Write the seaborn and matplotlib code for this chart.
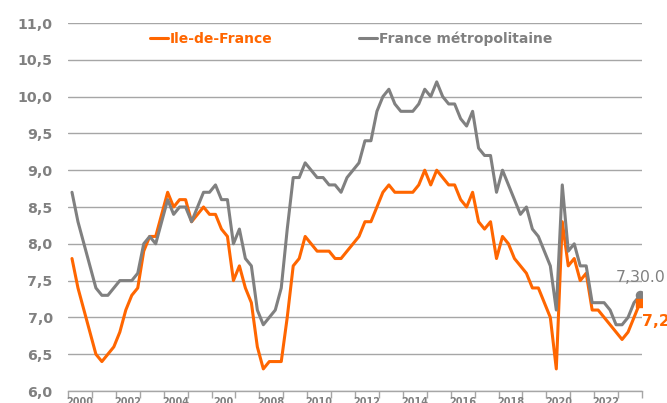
import numpy as np
import pandas as pd
import matplotlib
matplotlib.use("Agg")
import matplotlib.pyplot as plt
import seaborn as sns

# ==========================================
# Data - taux de chomage trimestriel (%), 2000 T1 -> 2023 T4
# ==========================================

idf = [7.8, 7.4, 7.1, 6.8, 6.5, 6.4, 6.5, 6.6, 6.8, 7.1, 7.3, 7.4,
       7.9, 8.1, 8.1, 8.4, 8.7, 8.5, 8.6, 8.6, 8.3, 8.4, 8.5, 8.4,
       8.4, 8.2, 8.1, 7.5, 7.7, 7.4, 7.2, 6.6, 6.3, 6.4, 6.4, 6.4,
       7.0, 7.7, 7.8, 8.1, 8.0, 7.9, 7.9, 7.9, 7.8, 7.8, 7.9, 8.0,
       8.1, 8.3, 8.3, 8.5, 8.7, 8.8, 8.7, 8.7, 8.7, 8.7, 8.8, 9.0,
       8.8, 9.0, 8.9, 8.8, 8.8, 8.6, 8.5, 8.7, 8.3, 8.2, 8.3, 7.8,
       8.1, 8.0, 7.8, 7.7, 7.6, 7.4, 7.4, 7.2, 7.0, 6.3, 8.3, 7.7,
       7.8, 7.5, 7.6, 7.1, 7.1, 7.0, 6.9, 6.8, 6.7, 6.8, 7.0, 7.2]

france = [8.7, 8.3, 8.0, 7.7, 7.4, 7.3, 7.3, 7.4, 7.5, 7.5, 7.5, 7.6,
          8.0, 8.1, 8.0, 8.3, 8.6, 8.4, 8.5, 8.5, 8.3, 8.5, 8.7, 8.7,
          8.8, 8.6, 8.6, 8.0, 8.2, 7.8, 7.7, 7.1, 6.9, 7.0, 7.1, 7.4,
          8.2, 8.9, 8.9, 9.1, 9.0, 8.9, 8.9, 8.8, 8.8, 8.7, 8.9, 9.0,
          9.1, 9.4, 9.4, 9.8, 10.0, 10.1, 9.9, 9.8, 9.8, 9.8, 9.9, 10.1,
          10.0, 10.2, 10.0, 9.9, 9.9, 9.7, 9.6, 9.8, 9.3, 9.2, 9.2, 8.7,
          9.0, 8.8, 8.6, 8.4, 8.5, 8.2, 8.1, 7.9, 7.7, 7.1, 8.8, 7.9,
          8.0, 7.7, 7.7, 7.2, 7.2, 7.2, 7.1, 6.9, 6.9, 7.0, 7.2, 7.3]

series_names = ["Ile-de-France", "France métropolitaine"]
year_labels = ["2000", "2002", "2004", "200", "2008", "2010",
               "2012", "2014", "2016", "2018", "2020", "2022"]
label_years = [2000, 2002, 2004, 2006, 2008, 2010,
               2012, 2014, 2016, 2018, 2020, 2022]
y_ticks = [6.0, 6.5, 7.0, 7.5, 8.0, 8.5, 9.0, 9.5, 10.0, 10.5, 11.0]
end_labels = ["7,2", "7,30.0"]

ORANGE = "#ff6600"
GRAY = "#808080"
GRID = "#a6a6a6"

# quarter dates as decimal years (march, june, sept, dec)
dates = pd.period_range("2000Q1", periods=len(idf), freq="Q").to_timestamp(how="start")
x = dates.year + (dates.month + 1) / 12

df = pd.DataFrame({
    "date": np.concatenate([x, x]),
    "taux": idf + france,
    "zone": [series_names[0]] * len(idf) + [series_names[1]] * len(france),
})

# ==========================================
# Plot
# ==========================================

sns.set_style("white")
plt.rcParams["font.family"] = ["DejaVu Sans"]

fig = plt.figure(figsize=(6.67, 4.03), dpi=100)
ax = fig.add_axes([68 / 667, 1 - 391 / 403, 574 / 667, 368 / 403])

sns.lineplot(data=df, x="date", y="taux", hue="zone",
             palette={series_names[0]: ORANGE, series_names[1]: GRAY},
             linewidth=2.2, ax=ax)

# end points
ax.scatter(x[-1], france[-1], s=34, color=GRAY, zorder=5)
ax.scatter(x[-1], idf[-1], s=30, marker="s", color=ORANGE, zorder=6)
ax.annotate(end_labels[1], xy=(x[-1], france[-1]), xytext=(-24, 18),
            textcoords="offset pixels", ha="left", va="center",
            color=GRAY, fontsize=11.3, annotation_clip=False)
ax.annotate(end_labels[0], xy=(x[-1], idf[-1]), xytext=(2, -19),
            textcoords="offset pixels", ha="left", va="center",
            color=ORANGE, fontsize=11.3, fontweight="bold",
            annotation_clip=False)

# axes
ax.set_xlim(2000, 2024)
ax.set_ylim(6, 11)
ax.set_xlabel("")
ax.set_ylabel("")

ax.set_yticks(y_ticks)
ax.set_yticklabels([f"{v:.1f}".replace(".", ",") for v in y_ticks],
                   color=GRAY, fontweight="bold", fontsize=10.2)
ax.tick_params(axis="y", length=0, pad=11)
ax.grid(axis="y", color=GRID, linewidth=1)
ax.grid(axis="x", visible=False)

ax.set_xticks(range(2000, 2025))
ax.set_xticklabels([])
ax.set_xticks([y + 0.5 for y in label_years], minor=True)
ax.set_xticklabels(year_labels, minor=True, color=GRAY,
                   fontweight="bold", fontsize=7)
ax.tick_params(axis="x", which="major", length=5, width=1, color=GRID,
               direction="out", bottom=True)
ax.tick_params(axis="x", which="minor", length=0, pad=4)

for side in ["left", "right", "top"]:
    ax.spines[side].set_visible(False)
ax.spines["bottom"].set_color(GRID)
ax.spines["bottom"].set_linewidth(1)

handles, labels = ax.get_legend_handles_labels()
ax.legend(handles, labels, loc="center", bbox_to_anchor=(0.493, 0.9565),
          ncol=2, frameon=False, handlelength=1.3, handletextpad=0.15,
          columnspacing=6.2, labelcolor="linecolor",
          prop={"weight": "bold", "size": 10})

fig.savefig("out.png", dpi=100)
plt.close()
